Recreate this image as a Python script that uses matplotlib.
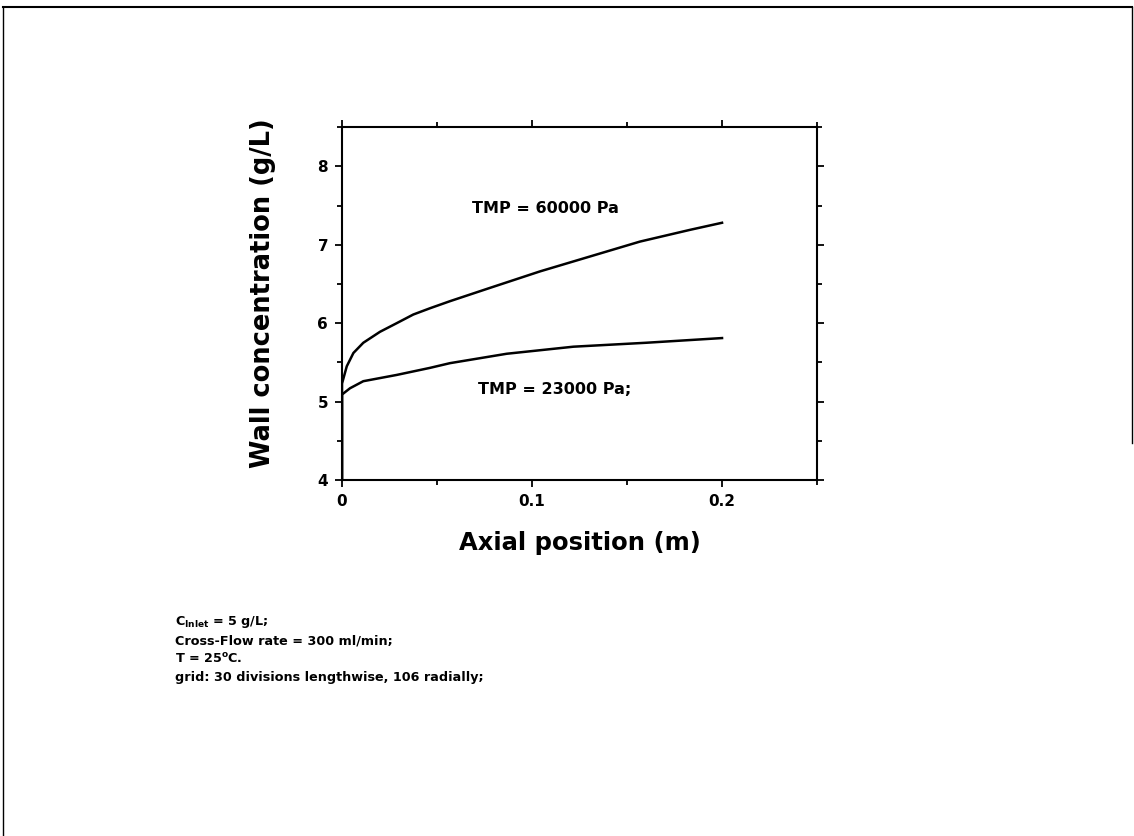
import matplotlib.pyplot as plt
from matplotlib.lines import Line2D
from matplotlib.ticker import MultipleLocator

plt.rcParams['font.family'] = ['DejaVu Sans']
plt.rcParams['font.weight'] = 'bold'
plt.rcParams['mathtext.fontset'] = 'dejavusans'

# wall concentration profiles (g/L) along the membrane (m)
x_60k = [0.0, 0.0, 0.0025, 0.006, 0.0112, 0.02, 0.0288, 0.0375, 0.0463, 0.0568,
         0.0779, 0.1042, 0.1305, 0.1568, 0.1832, 0.2]
c_60k = [4.0, 5.23, 5.45, 5.62, 5.75, 5.89, 6.0, 6.11, 6.19, 6.28,
         6.45, 6.66, 6.85, 7.04, 7.19, 7.28]

x_23k = [0.0, 0.0, 0.0042, 0.0112, 0.02, 0.0288, 0.0463, 0.0568, 0.0867,
         0.1218, 0.16, 0.2]
c_23k = [4.0, 5.09, 5.17, 5.26, 5.30, 5.34, 5.43, 5.49, 5.61,
         5.70, 5.75, 5.81]

notes = [r'C$_{\mathbf{Inlet}}$ = 5 g/L;',
         'Cross-Flow rate = 300 ml/min;',
         r'T = 25$^{\mathbf{o}}$C.',
         'grid: 30 divisions lengthwise, 106 radially;']

fig = plt.figure(figsize=(11.34, 8.36), dpi=100)
ax = fig.add_axes([0.3016, 0.4258, 0.4189, 0.4222])

ax.plot(x_60k, c_60k, color='black', lw=1.8)
ax.plot(x_23k, c_23k, color='black', lw=1.8)

ax.text(0.107, 7.46, 'TMP = 60000 Pa', ha='center', va='center', fontsize=11.5, fontweight='bold')
ax.text(0.112, 5.15, 'TMP = 23000 Pa;', ha='center', va='center', fontsize=11.5, fontweight='bold')

ax.set_xlim(0, 0.25)
ax.set_ylim(4, 8.5)
ax.set_xticks([0, 0.1, 0.2])
ax.set_xticklabels(['0', '0.1', '0.2'])
ax.set_yticks([4, 5, 6, 7, 8])
ax.xaxis.set_minor_locator(MultipleLocator(0.05))
ax.yaxis.set_minor_locator(MultipleLocator(0.5))
ax.tick_params(which='both', direction='out', top=True, right=True, width=1.3)
ax.tick_params(which='major', length=5, labelsize=11, pad=5)
ax.tick_params(which='minor', length=3.5)
for lab in ax.get_xticklabels() + ax.get_yticklabels():
    lab.set_fontweight('bold')
for sp in ax.spines.values():
    sp.set_linewidth(1.5)

ax.set_xlabel('Axial position (m)', fontsize=17.5, fontweight='bold', labelpad=16)
ax.set_ylabel('Wall concentration (g/L)', fontsize=18.5, fontweight='bold')
ax.yaxis.set_label_coords(-0.14, 0.53)

# conditions block under the plot
for i, line in enumerate(notes):
    fig.text(0.154, 1 - (622 + i * 18.5) / 836, line, ha='left', va='center',
             fontsize=9.2, fontweight='bold')

# page border
fig.add_artist(Line2D([0.003, 0.998], [0.9915, 0.9915], color='black', lw=1.5))
fig.add_artist(Line2D([0.003, 0.003], [0.0, 0.9915], color='black', lw=1.0))
fig.add_artist(Line2D([0.998, 0.998], [0.47, 0.9915], color='black', lw=1.0))

plt.savefig('out.png', dpi=100)
